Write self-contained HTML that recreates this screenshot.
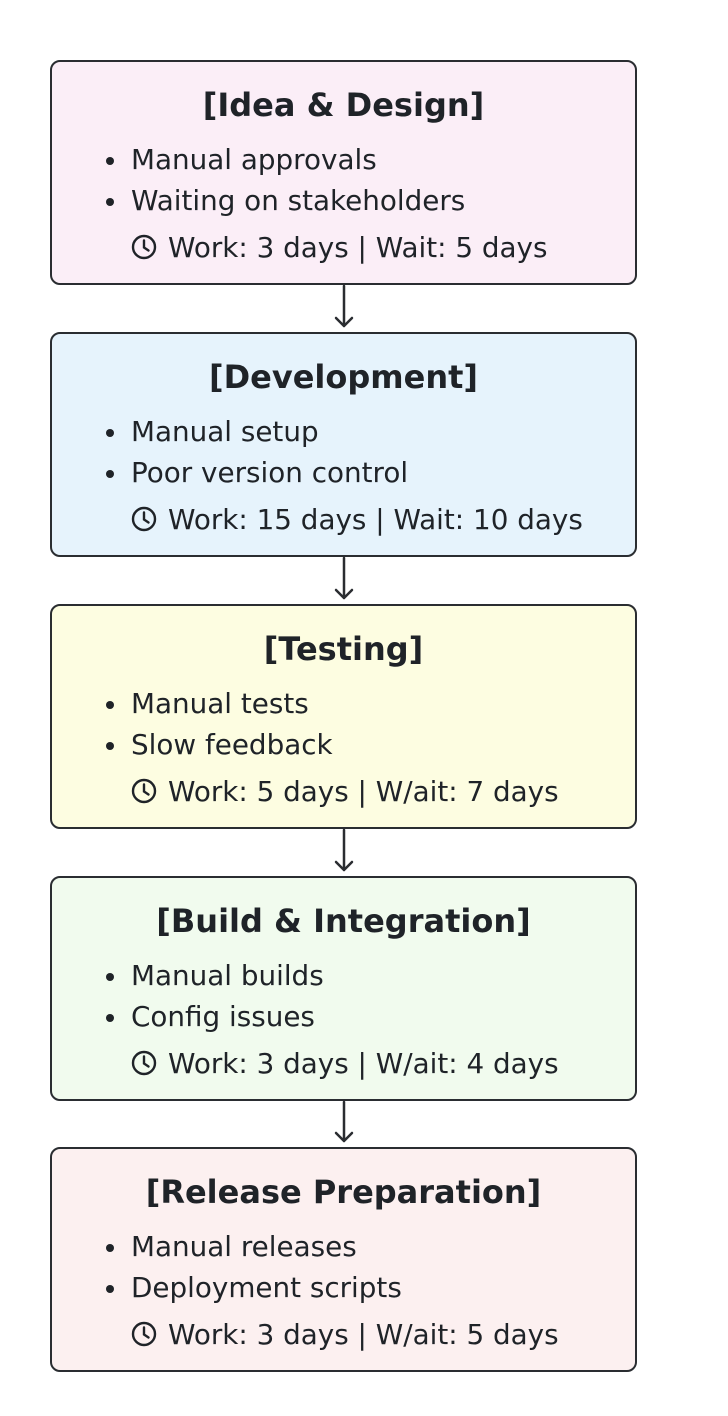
<!DOCTYPE html>
<html><head><style>
body{margin:0;width:728px;height:1416px;background:#fff;position:relative;font-family:"DejaVu Sans","Liberation Sans",sans-serif;color:#1f2328;overflow:hidden}
.b{position:absolute;left:50px;width:583px;height:221px;border:2px solid #2a2d31;border-radius:10px;box-sizing:content-box}
.t{position:absolute;left:0;right:0;top:23px;text-align:center;font-weight:bold;font-size:32px;line-height:40px}
.l{position:absolute;left:79px;font-size:27.8px;line-height:34px;white-space:nowrap}
.l1{top:81px}.l2{top:122px}.l3{top:169px}
.dot{position:absolute;left:-25px;top:14px;width:8px;height:8px;border-radius:50%;background:#1f2328}
.ck{display:inline-block;vertical-align:-3px;margin-right:11px}
</style></head><body>
<svg width="0" height="0" style="position:absolute"><defs><symbol id="c" viewBox="0 0 26 26"><circle cx="13" cy="13" r="11" fill="none" stroke="#1f2328" stroke-width="2.4"/><path d="M13 6.5V13.5L17.5 16.5" fill="none" stroke="#1f2328" stroke-width="2.4" stroke-linecap="round"/></symbol></defs></svg>

<div class="b" style="top:60px;background:#fbeef7"><div class="t">[Idea &amp; Design]</div>
<div class="l l1"><span class="dot"></span>Manual approvals</div>
<div class="l l2"><span class="dot"></span>Waiting on stakeholders</div>
<div class="l l3"><svg class="ck" width="26" height="26"><use href="#c"/></svg>Work: 3 days | Wait: 5 days</div></div>

<div class="b" style="top:332px;background:#e6f3fc"><div class="t">[Development]</div>
<div class="l l1"><span class="dot"></span>Manual setup</div>
<div class="l l2"><span class="dot"></span>Poor version control</div>
<div class="l l3"><svg class="ck" width="26" height="26"><use href="#c"/></svg>Work: 15 days | Wait: 10 days</div></div>

<div class="b" style="top:604px;background:#fdfde1"><div class="t">[Testing]</div>
<div class="l l1"><span class="dot"></span>Manual tests</div>
<div class="l l2"><span class="dot"></span>Slow feedback</div>
<div class="l l3"><svg class="ck" width="26" height="26"><use href="#c"/></svg>Work: 5 days | W/ait: 7 days</div></div>

<div class="b" style="top:876px;background:#f1fbee"><div class="t">[Build &amp; Integration]</div>
<div class="l l1"><span class="dot"></span>Manual builds</div>
<div class="l l2"><span class="dot"></span>Config issues</div>
<div class="l l3"><svg class="ck" width="26" height="26"><use href="#c"/></svg>Work: 3 days | W/ait: 4 days</div></div>

<div class="b" style="top:1147px;background:#fcf0f0"><div class="t">[Release Preparation]</div>
<div class="l l1"><span class="dot"></span>Manual releases</div>
<div class="l l2"><span class="dot"></span>Deployment scripts</div>
<div class="l l3"><svg class="ck" width="26" height="26"><use href="#c"/></svg>Work: 3 days | W/ait: 5 days</div></div>

<svg style="position:absolute;left:0;top:0" width="728" height="1416">
<g stroke="#2a2d31" stroke-width="2.5" fill="none" stroke-linecap="round" stroke-linejoin="round">
<path d="M344 286V326M336 318L344 326L352 318"/>
<path d="M344 558V598M336 590L344 598L352 590"/>
<path d="M344 830V870M336 862L344 870L352 862"/>
<path d="M344 1102V1141M336 1133L344 1141L352 1133"/>
</g></svg>
</body></html>
